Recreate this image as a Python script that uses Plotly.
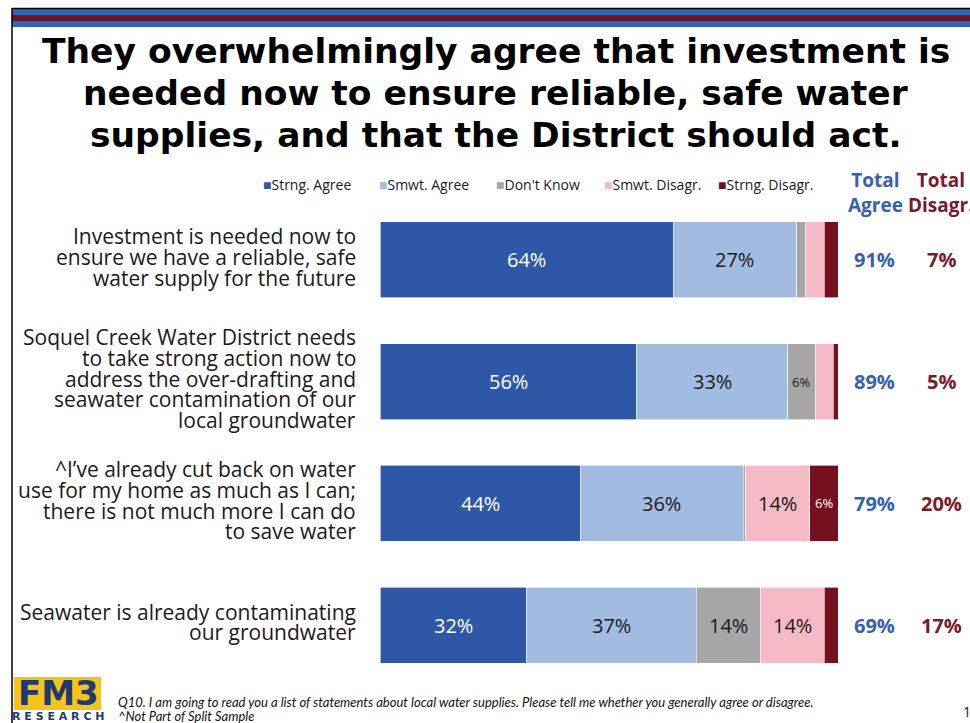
import plotly.graph_objects as go

W, H = 970, 723

categories = [
    "Investment is needed now to\nensure we have a reliable, safe\nwater supply for the future",
    "Soquel Creek Water District needs\nto take strong action now to\naddress the over-drafting and\nseawater contamination of our\nlocal groundwater",
    "^I\u2019ve already cut back on water\nuse for my home as much as I can;\nthere is not much more I can do\nto save water",
    "Seawater is already contaminating\nour groundwater",
]
title_lines = [
    "They overwhelmingly agree that investment is",
    "needed now to ensure reliable, safe water",
    "supplies, and that the District should act.",
]
series_names = ["Strng. Agree", "Smwt. Agree", "Don't Know", "Smwt. Disagr.", "Strng. Disagr."]
strong_agree = [64, 56, 43.7, 32]
smwt_agree = [27, 33, 35.6, 37]
dont_know = [2, 6, 0.6, 14]
smwt_disagree = [4, 4, 13.9, 14]
strong_disagree = [3, 1, 6.2, 3]
labels_strong_agree = ["64%", "56%", "44%", "32%"]
labels_smwt_agree = ["27%", "33%", "36%", "37%"]
labels_dont_know = ["", "6%", "", "14%"]
labels_smwt_disagree = ["", "", "14%", "14%"]
labels_strong_disagree = ["", "", "6%", ""]
total_agree = ["91%", "89%", "79%", "69%"]
total_disagree = ["7%", "5%", "20%", "17%"]

colors = ["#2E58A7", "#A2BBE1", "#A6A6A6", "#F5BAC5", "#76101F"]
text_colors = ["white", "#1a1a1a", "#1a1a1a", "#1a1a1a", "white"]
agree_col = "#3461B1"
disagree_col = "#7B1A2B"

values = [strong_agree, smwt_agree, dont_know, smwt_disagree, strong_disagree]
labels = [labels_strong_agree, labels_smwt_agree, labels_dont_know,
          labels_smwt_disagree, labels_strong_disagree]

ykeys = ["c%d" % i for i in range(len(categories))]

def px(x):
    return x / W

def py(y):
    return 1 - y / H

FONT = "Open Sans, Calibri, sans-serif"

fig = go.Figure()
ann = []
base = [0.0] * len(ykeys)
for name, vals, labs, col, tcol in zip(series_names, values, labels, colors, text_colors):
    fig.add_trace(go.Bar(
        y=ykeys, x=vals, name=name, orientation="h",
        marker=dict(color=col, line=dict(color="white", width=0.6)),
        hoverinfo="skip",
    ))
    # segment labels, centred on each segment via the x axis
    for j, (key, v, lab) in enumerate(zip(ykeys, vals, labs)):
        if lab:
            ann.append(dict(
                text=lab, x=base[j] + v / 2, y=key, xref="x", yref="y",
                xanchor="center", yanchor="middle", showarrow=False,
                font=dict(family=FONT, size=13 if v < 8 else 20, color=tcol),
            ))
        base[j] += v

fig.update_layout(
    barmode="stack", bargap=0.375,
    width=W, height=H, margin=dict(l=0, r=0, t=0, b=0),
    paper_bgcolor="white", plot_bgcolor="white",
    showlegend=False,
    xaxis=dict(domain=[px(380), px(838)], range=[0, 100], visible=False, fixedrange=True),
    yaxis=dict(domain=[py(686), py(199)], autorange="reversed", visible=False,
               type="category", fixedrange=True),
)

# title, one annotation per line
for i, line in enumerate(title_lines):
    ann.append(dict(
        text=line, x=px(496), y=py(51 + 42 * i), xref="paper", yref="paper",
        xanchor="center", yanchor="middle", showarrow=False,
        font=dict(family="DejaVu Sans", size=34.5, color="black", weight="bold"),
    ))
# category labels, one annotation per line
LS = 20.7
for key, cat in zip(ykeys, categories):
    lines = cat.split("\n")
    n = len(lines)
    for i, line in enumerate(lines):
        ann.append(dict(
            text=line, x=px(358), y=key, xref="paper", yref="y",
            xanchor="right", yanchor="middle", showarrow=False,
            yshift=-(i - (n - 1) / 2) * LS + 3,
            font=dict(family=FONT, size=21, color="#1a1a1a"),
        ))
# totals
for key, ta, td in zip(ykeys, total_agree, total_disagree):
    ann.append(dict(text="<b>%s</b>" % ta, x=px(874), y=key, xref="paper", yref="y",
                    xanchor="center", yanchor="middle", showarrow=False,
                    font=dict(family=FONT, size=20, color=agree_col)))
    ann.append(dict(text="<b>%s</b>" % td, x=px(941), y=key, xref="paper", yref="y",
                    xanchor="center", yanchor="middle", showarrow=False,
                    font=dict(family=FONT, size=20, color=disagree_col)))
# total headers
ann.append(dict(text="<b>Total<br>Agree</b>", x=px(875), y=py(193), xref="paper", yref="paper",
                xanchor="center", yanchor="middle", showarrow=False, align="center",
                font=dict(family=FONT, size=19, color=agree_col)))
ann.append(dict(text="<b>Total<br>Disagr.</b>", x=px(941), y=py(193), xref="paper", yref="paper",
                xanchor="center", yanchor="middle", showarrow=False, align="center",
                font=dict(family=FONT, size=19, color=disagree_col)))
# legend
leg_x = [261, 377, 494, 602, 716]
for lx, name, col in zip(leg_x, series_names, colors):
    ann.append(dict(text="<span style='color:%s'>\u25A0</span>%s" % (col, name),
                    x=px(lx), y=py(184), xref="paper", yref="paper",
                    xanchor="left", yanchor="middle", showarrow=False,
                    font=dict(family=FONT, size=14, color="#1a1a1a")))
# footnotes
ann.append(dict(text="<i>Q10. I am going to read you a list of statements about local water supplies. Please tell me whether you generally agree or disagree.</i>",
                x=px(116), y=py(702), xref="paper", yref="paper", xanchor="left", yanchor="middle",
                showarrow=False, font=dict(family="Lato", size=13, color="#111111")))
ann.append(dict(text="<i>^Not Part of Split Sample</i>",
                x=px(116), y=py(716), xref="paper", yref="paper", xanchor="left", yanchor="middle",
                showarrow=False, font=dict(family="Lato", size=13, color="#111111")))
ann.append(dict(text="1", x=px(961), y=py(711), xref="paper", yref="paper", xanchor="left",
                yanchor="middle", showarrow=False, font=dict(family=FONT, size=14, color="#1a1a1a")))
# logo
ann.append(dict(text="<b>FM3</b>", x=px(58), y=py(693), xref="paper", yref="paper",
                xanchor="center", yanchor="middle", showarrow=False,
                font=dict(family="DejaVu Sans", size=34, color="#1F3A6E")))
ann.append(dict(text="<b>R E S E A R C H</b>", x=px(58), y=py(716), xref="paper", yref="paper",
                xanchor="center", yanchor="middle", showarrow=False,
                font=dict(family="DejaVu Sans", size=11, color="#1F3A6E")))

shapes = [
    dict(type="rect", xref="paper", yref="paper", x0=px(14), x1=px(101), y0=py(677), y1=py(710),
         fillcolor="#F7C21B", line=dict(width=0), layer="below"),
    dict(type="rect", xref="paper", yref="paper", x0=px(12), x1=1, y0=py(15), y1=py(9),
         fillcolor="#3462B2", line=dict(width=0)),
    dict(type="rect", xref="paper", yref="paper", x0=px(12), x1=1, y0=py(21), y1=py(15),
         fillcolor="#6E1427", line=dict(width=0)),
    dict(type="rect", xref="paper", yref="paper", x0=px(12), x1=1, y0=py(27), y1=py(21),
         fillcolor="#3462B2", line=dict(width=0)),
    dict(type="line", xref="paper", yref="paper", x0=px(12), x1=1, y0=py(8.5), y1=py(8.5),
         line=dict(color="black", width=1.5)),
    dict(type="line", xref="paper", yref="paper", x0=px(12), x1=px(12), y0=0, y1=py(8),
         line=dict(color="black", width=1.5)),
]
fig.update_layout(annotations=ann, shapes=shapes)
fig.write_html("out.html")
